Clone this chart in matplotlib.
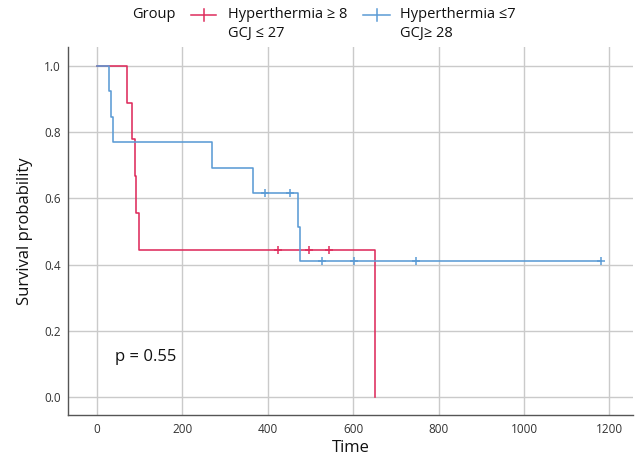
import matplotlib
matplotlib.use("Agg")
import matplotlib.pyplot as plt
from matplotlib.lines import Line2D
import numpy as np

plt.rcParams['font.family'] = ['Open Sans', 'DejaVu Sans']

# Group 1: Hyperthermia >= 8 / GCJ <= 27
red_times = [0, 72, 83, 89, 91, 99, 651]
red_surv = [1.0, 0.889, 0.778, 0.667, 0.556, 0.444, 0.0]
red_end = 651
red_censor = [425, 498, 544]

# Group 2: Hyperthermia <= 7 / GCJ >= 28
blue_times = [0, 29, 33, 38, 269, 367, 470, 476]
blue_surv = [1.0, 0.923, 0.846, 0.769, 0.692, 0.615, 0.513, 0.410]
blue_end = 1180
blue_censor = [394, 453, 527, 603, 747, 1180]

xticks = [0, 200, 400, 600, 800, 1000, 1200]
yticks = [0.0, 0.2, 0.4, 0.6, 0.8, 1.0]
legend_lines = [["Hyperthermia \u2265 8", "GCJ \u2264 27"], ["Hyperthermia \u22647", "GCJ\u2265 28"]]
pval = "p = 0.55"

RED = '#de2c5c'
BLUE = '#5b9bd5'

W, H = 640, 458
fig = plt.figure(figsize=(6.4, 4.58), dpi=100)
ax = fig.add_axes([68 / W, 1 - 415 / H, (633 - 68) / W, (415 - 47) / H])

def step_val(times, surv, t):
    idx = np.searchsorted(times, t, side='right') - 1
    return surv[idx]

for times, surv, end, cens, col in [(red_times, red_surv, red_end, red_censor, RED),
                                     (blue_times, blue_surv, blue_end, blue_censor, BLUE)]:
    xs = list(times) + [end]
    ys = list(surv) + [surv[-1]]
    ax.step(xs, ys, where='post', color=col, lw=1.15, zorder=3)
    cy = [step_val(times, surv, c) for c in cens]
    ax.plot(cens, cy, linestyle='none', marker='+', color=col, markersize=6, mew=1.1, zorder=4)

ax.set_xlim(-67, 1255)
ax.set_ylim(-0.054, 1.057)
ax.set_xticks(xticks)
ax.set_yticks(yticks)
ax.set_yticklabels([f"{v:.1f}" for v in yticks])
ax.grid(True, color='#cacaca', lw=1.0, zorder=0)
ax.set_axisbelow(True)
for s in ['top', 'right']:
    ax.spines[s].set_visible(False)
for s in ['left', 'bottom']:
    ax.spines[s].set_color('#555555')
    ax.spines[s].set_linewidth(1.0)
ax.tick_params(axis='both', length=0, labelsize=8.5, colors='#333333')
ax.tick_params(axis='x', pad=6)
ax.tick_params(axis='y', pad=5)
ax.set_xlabel("Time", fontsize=12, color='#111111', labelpad=3)
ax.set_ylabel("Survival probability", fontsize=12, color='#111111', labelpad=8)

ax.text(43, 0.121, pval, fontsize=12, color='#111111', va='center', ha='left')

# legend drawn in figure pixel positions
def fx(px):
    return px / W

def fy(py):
    return 1 - py / H

fig.text(fx(132), fy(15), "Group", fontsize=10.5, color='#111111', va='center', ha='left')
for (x0, x1, tx), col, lines in [((191, 216, 228), RED, legend_lines[0]),
                                  ((363, 390, 400), BLUE, legend_lines[1])]:
    fig.add_artist(Line2D([fx(x0), fx(x1)], [fy(15), fy(15)], color=col, lw=1.1))
    xm = (x0 + x1) / 2
    fig.add_artist(Line2D([fx(xm), fx(xm)], [fy(9), fy(21)], color=col, lw=1.1))
    fig.text(fx(tx), fy(15), lines[0], fontsize=10.5, color='#111111', va='center', ha='left')
    fig.text(fx(tx), fy(33), lines[1], fontsize=10.5, color='#111111', va='center', ha='left')

fig.savefig("out.png", dpi=100)
